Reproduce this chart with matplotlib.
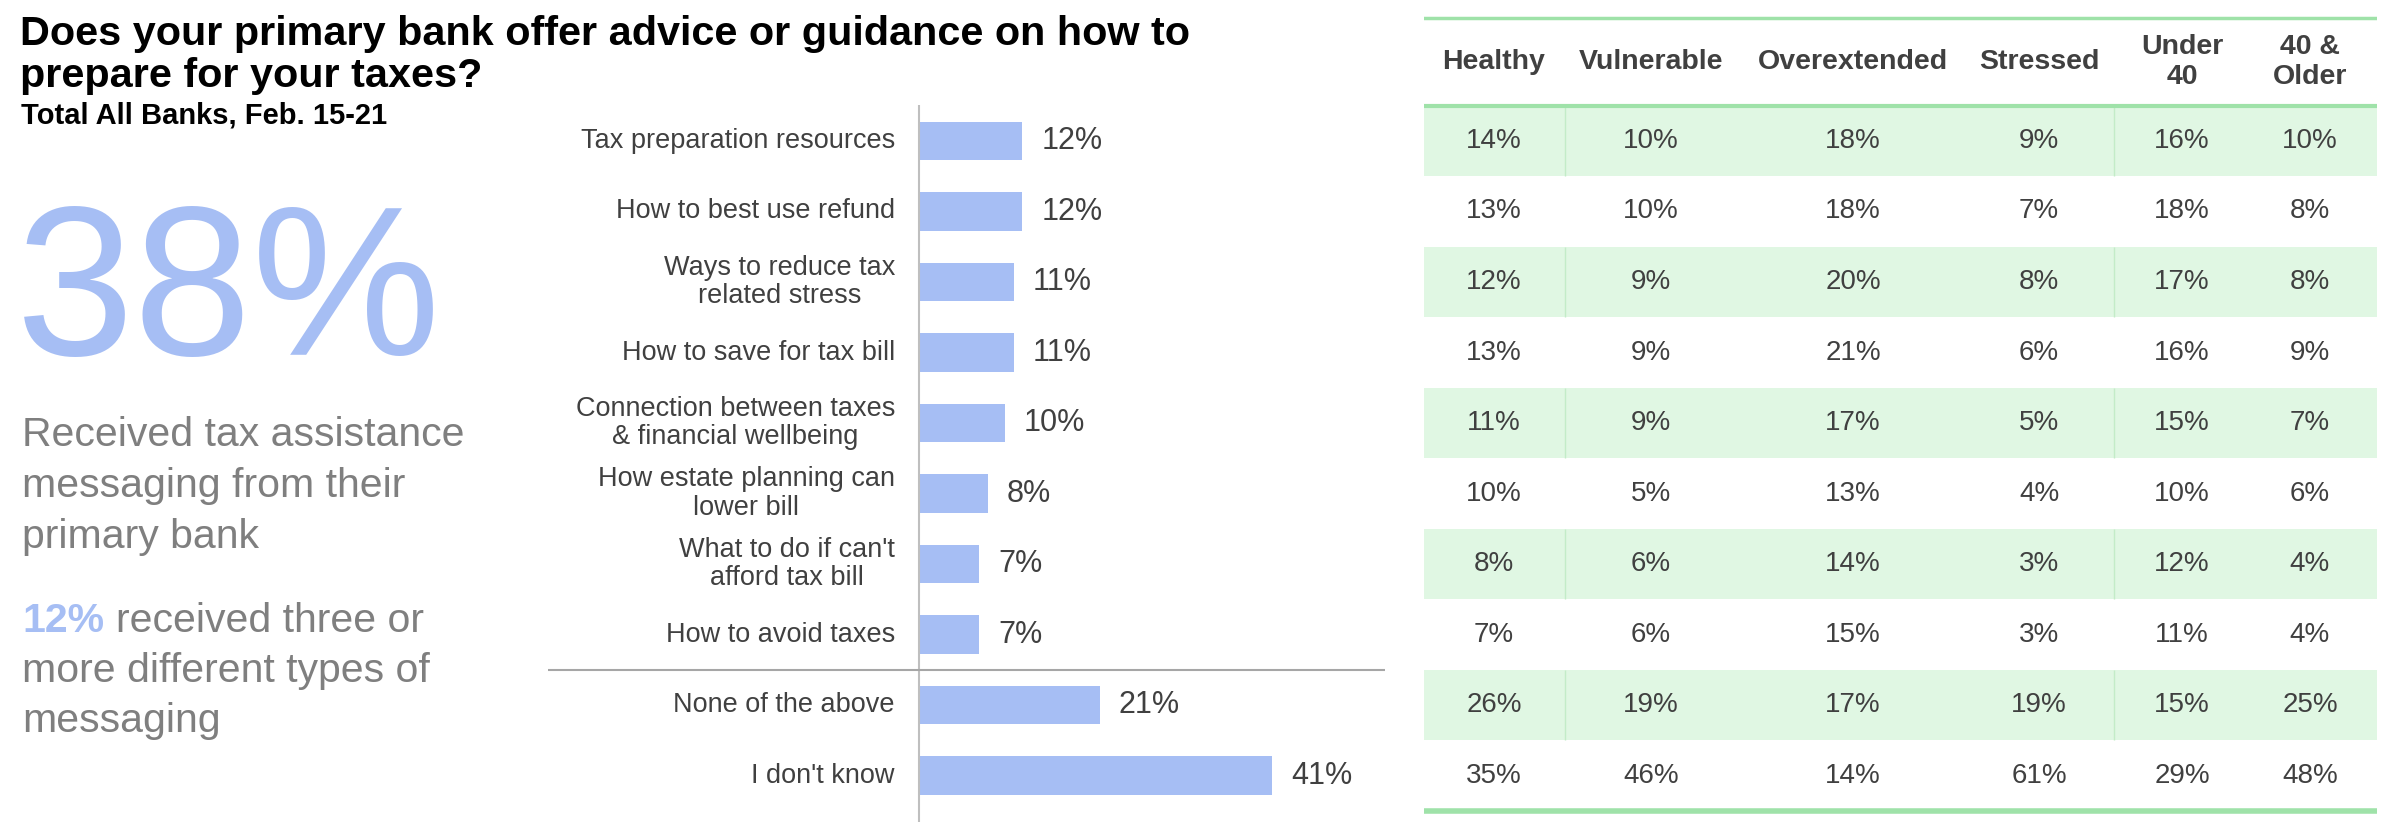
import matplotlib
matplotlib.use("Agg")
import matplotlib.pyplot as plt

plt.rcParams['font.family'] = ['Liberation Sans', 'DejaVu Sans']

# ---- data ----
categories = [
    "Tax preparation resources",
    "How to best use refund",
    "Ways to reduce tax\nrelated stress",
    "How to save for tax bill",
    "Connection between taxes\n& financial wellbeing",
    "How estate planning can\nlower bill",
    "What to do if can't\nafford tax bill",
    "How to avoid taxes",
    "None of the above",
    "I don't know",
]
total_pct = [12, 12, 11, 11, 10, 8, 7, 7, 21, 41]

segments = ["Healthy", "Vulnerable", "Overextended", "Stressed", "Under\n40", "40 &\nOlder"]
healthy = [14, 13, 12, 13, 11, 10, 8, 7, 26, 35]
vulnerable = [10, 10, 9, 9, 9, 5, 6, 6, 19, 46]
overextended = [18, 18, 20, 21, 17, 13, 14, 15, 17, 14]
stressed = [9, 7, 8, 6, 5, 4, 3, 3, 19, 61]
under_40 = [16, 18, 17, 16, 15, 10, 12, 11, 15, 29]
older_40 = [10, 8, 8, 9, 7, 6, 4, 4, 25, 48]
table_cols = [healthy, vulnerable, overextended, stressed, under_40, older_40]

headline = "38%"
headline_lines = ["Received tax assistance", "messaging from their", "primary bank"]
sub_pct = "12%"
sub_lines = ["received three or", "more different types of", "messaging"]

# ---- styling ----
W, H = 2386, 822
BLUE = "#A6BEF4"
DARK = "#404040"
GRAY = "#7F7F7F"
GREEN_FILL = "#E0F7E3"
GREEN_LINE = "#9FE2A9"

fig = plt.figure(figsize=(W / 100, H / 100), dpi=100)
fig.patch.set_facecolor("white")


def fy(px):
    return 1 - px / H


# title block
fig.text(20 / W, fy(45), "Does your primary bank offer advice or guidance on how to",
         fontsize=29.8, fontweight="bold", color="black", va="baseline")
fig.text(20 / W, fy(87), "prepare for your taxes?",
         fontsize=29.8, fontweight="bold", color="black", va="baseline")
fig.text(21 / W, fy(124), "Total All Banks, Feb. 15-21",
         fontsize=21, fontweight="bold", color="black", va="baseline")

# big number + callouts
fig.text(16 / W, fy(355), headline, fontsize=153, color=BLUE, va="baseline")
for k, line in enumerate(headline_lines):
    fig.text(22 / W, fy(446 + 51 * k), line, fontsize=29.5, color=GRAY, va="baseline")

t12 = fig.text(22 / W, fy(632), sub_pct, fontsize=29.5, fontweight="bold", color=BLUE,
               va="baseline")
fig.canvas.draw()
bb = t12.get_window_extent()
fig.text((bb.x1 + 12) / W, fy(632), sub_lines[0], fontsize=29.5, color=GRAY, va="baseline")
for k, line in enumerate(sub_lines[1:], start=1):
    fig.text(22 / W, fy(632 + 50 * k), line, fontsize=29.5, color=GRAY, va="baseline")

# ---- bar chart ----
ROW_TOP = -141 / 70.5
ROW_BOT = (H - 141) / 70.5
ax = fig.add_axes([548 / W, 0, (1385 - 548) / W, 1])
px_per_pct = 8.61
ax.set_xlim(-(919 - 548) / px_per_pct, (1385 - 919) / px_per_pct)
ax.set_ylim(ROW_BOT, ROW_TOP)
ax.axis("off")

ypos = list(range(len(categories)))
ax.barh(ypos, total_pct, height=0.54, color=BLUE, zorder=2)
for y, v, lab in zip(ypos, total_pct, categories):
    ax.text(v + 2.2, y, f"{v}%", fontsize=22, color=DARK, va="center", ha="left")
    ax.text(-2.8, y, lab, fontsize=19.5, color=DARK, va="center", ha="right",
            multialignment="center", linespacing=1.12)
ax.vlines(0, -0.51, ROW_BOT, color="#BFBFBF", lw=1.5, zorder=3)
ax.axhline(7.5, color="#A6A6A6", lw=1.5, zorder=3)

# ---- table ----
tx0, tx1 = 1424, 2377
axt = fig.add_axes([tx0 / W, 0, (tx1 - tx0) / W, 1])
axt.set_xlim(tx0, tx1)
axt.set_ylim(ROW_BOT, ROW_TOP)
axt.axis("off")

col_x = [1494, 1651, 1853, 2039, 2182, 2310]
dividers = [1565, 2114]

n_rows = len(healthy)
for i in range(n_rows):
    if i % 2 == 0:
        axt.axhspan(i - 0.5, i + 0.5, color=GREEN_FILL, lw=0, zorder=0)
        axt.vlines(dividers, i - 0.5, i + 0.5, color="#C3ECC8", lw=1, zorder=1)

header_y = (-0.5 + (18 - 141) / 70.5) / 2
for x, name in zip(col_x, segments):
    axt.text(x, header_y, name, fontsize=20.5, fontweight="bold", color=DARK,
             ha="center", va="center", linespacing=1.22)
for x, col in zip(col_x, table_cols):
    for i, v in enumerate(col):
        axt.text(x, i, f"{v}%", fontsize=20, color=DARK, ha="center", va="center")

axt.axhline((18 - 141) / 70.5, color=GREEN_LINE, lw=2.5, zorder=2)
axt.axhline(-0.5, color=GREEN_LINE, lw=3, zorder=2)
axt.axhline(9.5, color=GREEN_LINE, lw=4, zorder=2)

fig.savefig("out.png", dpi=100, facecolor="white")
